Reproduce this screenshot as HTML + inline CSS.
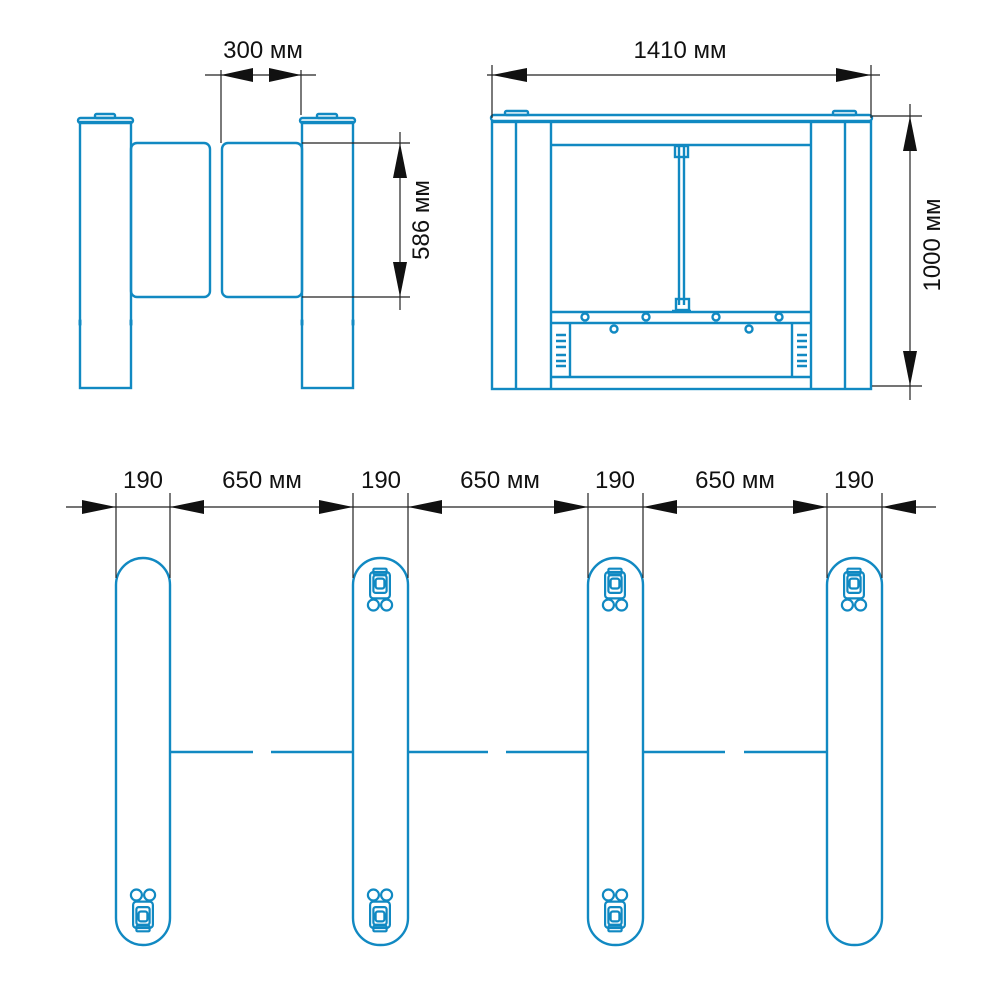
<!DOCTYPE html>
<html><head><meta charset="utf-8"><style>
html,body{margin:0;padding:0;background:#fff}
svg{display:block}
text{font-family:"Liberation Sans",sans-serif;font-size:24px;fill:#111}
</style></head><body>
<svg width="1000" height="1000" viewBox="0 0 1000 1000" xmlns="http://www.w3.org/2000/svg">
<defs>
<g id="icT" fill="none" stroke="#1189c2" stroke-width="2">
<rect x="-6" y="-3" width="12" height="5" rx="1"/>
<rect x="-9" y="0" width="18" height="24" rx="3"/>
<rect x="-6" y="3" width="12" height="16" rx="2"/>
<rect x="-4" y="6" width="8" height="9" rx="2"/>
<circle cx="-6" cy="30" r="5"/><circle cx="6" cy="30" r="5"/>
</g>
</defs>
<g fill="none" stroke="#1189c2" stroke-width="2.4">
<!-- side view -->
<rect x="80" y="122" width="51" height="266"/>
<rect x="78" y="118" width="55" height="5" rx="2.5"/>
<rect x="95" y="114" width="20" height="4" rx="1.5"/>
<rect x="302" y="122" width="51" height="266"/>
<rect x="300" y="118" width="55" height="5" rx="2.5"/>
<rect x="317" y="114" width="20" height="4" rx="1.5"/>
<rect x="131" y="143" width="79" height="154" rx="6"/>
<rect x="222" y="143" width="80" height="154" rx="6"/>
<!-- front view -->
<rect x="492" y="122" width="379" height="267"/>
<rect x="491" y="115" width="381" height="6" rx="3"/>
<rect x="505" y="111" width="23" height="4" rx="1.5"/>
<rect x="833" y="111" width="23" height="4" rx="1.5"/>
<line x1="516" y1="120" x2="516" y2="389"/><line x1="551" y1="120" x2="551" y2="389"/>
<line x1="811" y1="120" x2="811" y2="389"/><line x1="845" y1="120" x2="845" y2="389"/>
<line x1="551" y1="145" x2="811" y2="145"/>
<line x1="551" y1="312" x2="811" y2="312"/>
<line x1="551" y1="323" x2="811" y2="323"/>
<line x1="551" y1="377" x2="811" y2="377"/>
<line x1="570" y1="323" x2="570" y2="377"/><line x1="792" y1="323" x2="792" y2="377"/>
<line x1="679" y1="145" x2="679" y2="305"/><line x1="684" y1="145" x2="684" y2="305"/>
<rect x="675" y="146" width="13" height="11"/>
<rect x="676" y="299" width="13" height="11"/>
<line x1="672" y1="311" x2="691" y2="311"/>
<circle cx="585" cy="317" r="3.5"/><circle cx="646" cy="317" r="3.5"/><circle cx="716" cy="317" r="3.5"/><circle cx="779" cy="317" r="3.5"/>
<circle cx="614" cy="329" r="3.5"/><circle cx="749" cy="329" r="3.5"/>
<path d="M556 335h10M556 341h10M556 347h10M556 355h10M556 361h10M556 366h10M797 335h10M797 341h10M797 347h10M797 355h10M797 361h10M797 366h10"/>
<!-- plan posts -->
<rect x="116" y="558" width="54" height="387" rx="27"/>
<rect x="353" y="558" width="55" height="387" rx="27"/>
<rect x="588" y="558" width="55" height="387" rx="27"/>
<rect x="827" y="558" width="55" height="387" rx="27"/>
<path d="M170 752h83M271 752h82M408 752h80M506 752h82M643 752h82M744 752h83"/>
</g>
<g fill="#1189c2">
<rect x="78.5" y="319" width="3" height="7" rx="1.5"/><rect x="129.5" y="319" width="3" height="7" rx="1.5"/>
<rect x="300.5" y="319" width="3" height="7" rx="1.5"/><rect x="351.5" y="319" width="3" height="7" rx="1.5"/>
</g>
<g transform="translate(380,572) scale(1.1)"><use href="#icT"/></g>
<g transform="translate(615,572) scale(1.1)"><use href="#icT"/></g>
<g transform="translate(854,572) scale(1.1)"><use href="#icT"/></g>
<g transform="translate(143,928) scale(1.1,-1.1)"><use href="#icT"/></g>
<g transform="translate(380,928) scale(1.1,-1.1)"><use href="#icT"/></g>
<g transform="translate(615,928) scale(1.1,-1.1)"><use href="#icT"/></g>
<!-- dimensions -->
<g stroke="#222" stroke-width="1.2" fill="none">
<path d="M205 75H316M221 70V143M301 70V115"/>
<path d="M400 132V310M302 143H410M302 297H410"/>
<path d="M487 75H880M492 65V118M871 65V118"/>
<path d="M910 104V400M872 116H922M872 386H922"/>
<path d="M66 507H936"/>
<path d="M116 493V578M170 493V578M353 493V578M408 493V578M588 493V578M643 493V578M827 493V578M882 493V578"/>
</g>
<g fill="#111">
<polygon points="221,75 253,68 253,82"/><polygon points="301,75 269,68 269,82"/>
<polygon points="400,143 393,178 407,178"/><polygon points="400,297 393,262 407,262"/>
<polygon points="492,75 527,68 527,82"/><polygon points="871,75 836,68 836,82"/>
<polygon points="910,116 903,151 917,151"/><polygon points="910,386 903,351 917,351"/>
<polygon points="116,507 82,500 82,514"/><polygon points="170,507 204,500 204,514"/>
<polygon points="353,507 319,500 319,514"/><polygon points="408,507 442,500 442,514"/>
<polygon points="588,507 554,500 554,514"/><polygon points="643,507 677,500 677,514"/>
<polygon points="827,507 793,500 793,514"/><polygon points="882,507 916,500 916,514"/>
</g>
<text x="263" y="58" text-anchor="middle">300 мм</text>
<text x="680" y="58" text-anchor="middle">1410 мм</text>
<text transform="translate(429,220) rotate(-90)" text-anchor="middle">586 мм</text>
<text transform="translate(940,245) rotate(-90)" text-anchor="middle">1000 мм</text>
<text x="143" y="488" text-anchor="middle">190</text>
<text x="262" y="488" text-anchor="middle">650 мм</text>
<text x="381" y="488" text-anchor="middle">190</text>
<text x="500" y="488" text-anchor="middle">650 мм</text>
<text x="615" y="488" text-anchor="middle">190</text>
<text x="735" y="488" text-anchor="middle">650 мм</text>
<text x="854" y="488" text-anchor="middle">190</text>
</svg>
</body></html>
